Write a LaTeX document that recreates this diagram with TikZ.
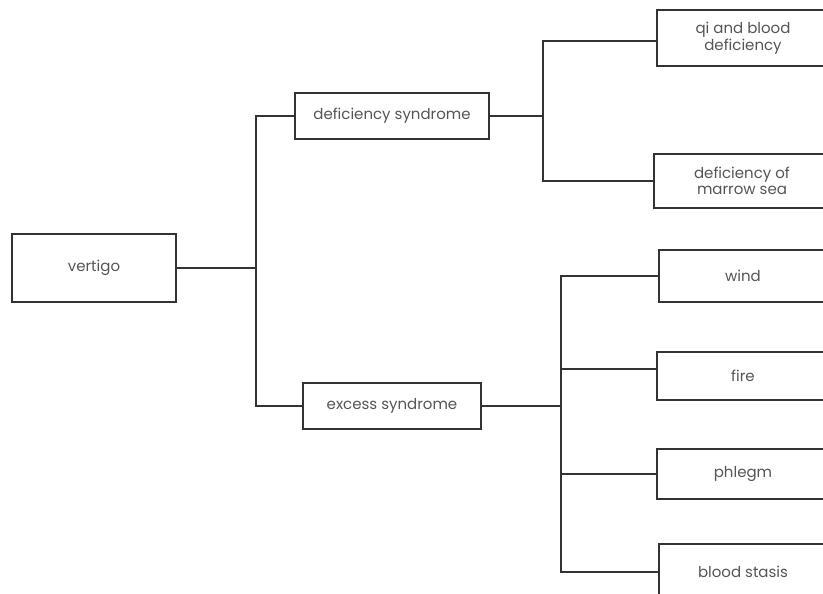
\documentclass[tikz,border=0pt]{standalone}
\usepackage{fontspec}
\setmainfont{Poppins}
\usetikzlibrary{calc}
\definecolor{txt}{HTML}{555555}
\definecolor{ln}{HTML}{333333}
\tikzset{
  box/.style={draw=ln, line width=2pt, rectangle, inner sep=0pt, align=center, text=txt, font=\fontsize{15}{16.5}\selectfont},
  conn/.style={draw=ln, line width=2pt}
}
\begin{document}
\begin{tikzpicture}[x=1pt,y=-1pt]
\clip (0,0) rectangle (823,594);
\fill[white] (0,0) rectangle (823,594);
\node[box, minimum width=164pt, minimum height=68pt] (vertigo) at (94,268) {vertigo};
\node[box, minimum width=194pt, minimum height=46pt] (defsyn) at (392,116) {deficiency syndrome};
\node[box, minimum width=178pt, minimum height=46pt] (exsyn) at (392,406) {excess syndrome};
\node[box, minimum width=172pt, minimum height=56pt] (qi) at (743,38) {qi and blood\\deficiency};
\node[box, minimum width=176pt, minimum height=54pt] (marrow) at (742,181) {deficiency of\\marrow sea};
\node[box, minimum width=168pt, minimum height=52pt] (wind) at (743,276) {wind};
\node[box, minimum width=172pt, minimum height=48pt] (fire) at (743,376) {fire};
\node[box, minimum width=172pt, minimum height=50pt] (phlegm) at (743,474) {phlegm};
\node[box, minimum width=168pt, minimum height=56pt] (stasis) at (743,572) {blood stasis};
\coordinate (j1) at (256,268);
\coordinate (j2) at (543,116);
\coordinate (j3) at (561,406);
\draw[conn] (vertigo.east) -- (j1);
\draw[conn] (j1) |- (defsyn.west);
\draw[conn] (j1) |- (exsyn.west);
\draw[conn] (defsyn.east) -- (j2);
\draw[conn] (j2) |- ($(qi.west)+(0,3)$);
\draw[conn] (j2) |- (marrow.west);
\draw[conn] (exsyn.east) -- (j3);
\draw[conn] (j3) |- (wind.west);
\draw[conn] (j3) |- ($(fire.west)+(0,-7)$);
\draw[conn] (j3) |- (phlegm.west);
\draw[conn] (j3) |- (stasis.west);
\end{tikzpicture}
\end{document}
